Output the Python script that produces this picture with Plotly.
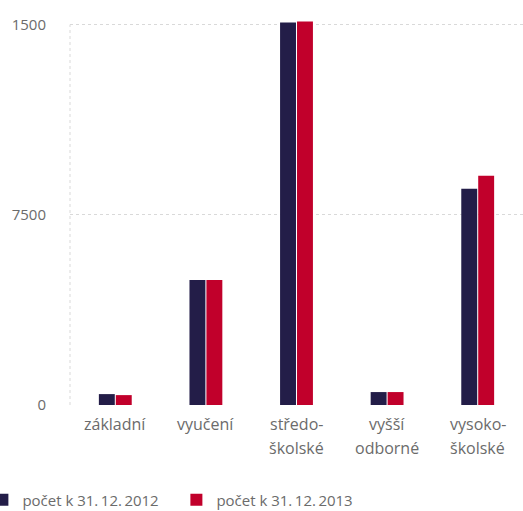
import plotly.graph_objects as go

categories = ["základní", "vyučení", "středo-\nškolské", "vyšší\nodborné", "vysoko-\nškolské"]
values_2012 = [430, 4930, 15080, 510, 8530]
values_2013 = [390, 4930, 15120, 510, 9040]
series_names = ["počet k 31.\u200912.\u20092012", "počet k 31.\u200912.\u20092013"]
tick_vals = [0, 7500, 15000]
tick_text = ["0", "7500", "1500"]

NAVY = "#231d48"
RED = "#c1002b"
GREY = "#6b6b6b"
FONT = "Open Sans"

cat_keys = [c.replace("\n", " ") for c in categories]

fig = go.Figure()
fig.add_trace(go.Bar(x=cat_keys, y=values_2012, name=series_names[0], marker=dict(color=NAVY, line=dict(width=0))))
fig.add_trace(go.Bar(x=cat_keys, y=values_2013, name=series_names[1], marker=dict(color=RED, line=dict(width=0))))

annotations = []
for key, label in zip(cat_keys, categories):
    for i, line in enumerate(label.split("\n")):
        annotations.append(dict(
            x=key, xref="x", y=0, yref="paper", yanchor="middle",
            yshift=-19 - 24 * i, text=line, showarrow=False,
            font=dict(family=FONT, size=16, color=GREY),
        ))

fig.update_layout(
    width=523, height=511,
    margin=dict(l=70, r=0, t=17, b=106, autoexpand=False),
    paper_bgcolor="white", plot_bgcolor="white",
    barmode="group", bargap=0.626, bargroupgap=0.06,
    font=dict(family=FONT, color=GREY),
    hovermode=False,
    xaxis=dict(showticklabels=False, showgrid=False, zeroline=False, showline=False, ticks=""),
    yaxis=dict(
        range=[0, 15300], tickvals=tick_vals, ticktext=tick_text,
        showgrid=True, gridcolor="#d9d9d9", griddash="dot", gridwidth=1,
        zeroline=False, showline=False, ticks="outside", ticklen=20,
        tickcolor="rgba(0,0,0,0)", tickfont=dict(family=FONT, size=15, color=GREY),
    ),
    legend=dict(
        orientation="h", x=-0.1934, xanchor="left", y=-0.245, yanchor="middle",
        font=dict(family=FONT, size=15, color=GREY),
        entrywidth=149, entrywidthmode="pixels", itemclick=False,
    ),
    shapes=[dict(type="line", xref="paper", x0=0, x1=0, yref="y", y0=0, y1=15000,
                 line=dict(color="#d9d9d9", width=1, dash="dot"), layer="below")],
    annotations=annotations,
)

fig.write_html("out.html", config={"displayModeBar": False},
               post_script="document.body.style.margin='0';")
